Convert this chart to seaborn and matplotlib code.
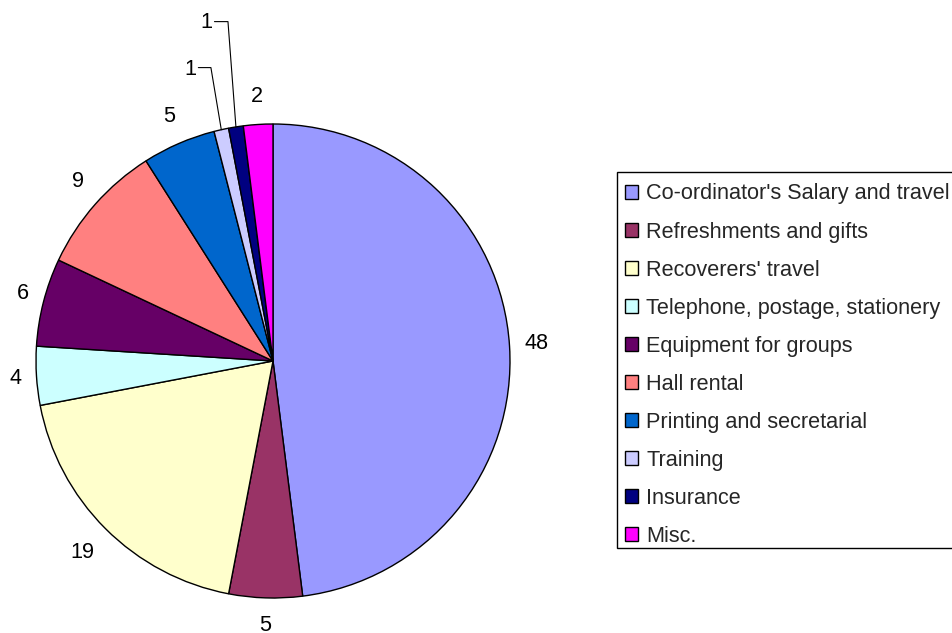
import numpy as np
import matplotlib
matplotlib.use("Agg")
import matplotlib.pyplot as plt
import seaborn as sns
from matplotlib.patches import Patch, Rectangle

categories = ["Co-ordinator's Salary and travel", "Refreshments and gifts",
              "Recoverers' travel", "Telephone, postage, stationery",
              "Equipment for groups", "Hall rental", "Printing and secretarial",
              "Training", "Insurance", "Misc."]
values = [48, 5, 19, 4, 6, 9, 5, 1, 1, 2]
value_labels = ["48", "5", "19", "4", "6", "9", "5", "1", "1", "2"]
colors = ["#9999FF", "#993366", "#FFFFCC", "#CCFFFF", "#660066",
          "#FF8080", "#0066CC", "#CCCCFF", "#000080", "#FF00FF"]

sns.set_theme(style="white")
plt.rcParams['font.family'] = ['Liberation Sans', 'DejaVu Sans']

W, H = 952, 633
FS = 15.6
fpx = FS * 100 / 72.0
fig = plt.figure(figsize=(W / 100, H / 100), dpi=100)
fig.patch.set_facecolor("white")

R = 237.0
cx, cy = 273.0, 361.0
ext = 1.05
half = ext * R
ax = fig.add_axes([(cx - half) / W, (H - cy - half) / H, 2 * half / W, 2 * half / H])

wedges, texts = ax.pie(values, colors=colors, startangle=90, counterclock=False,
                       labels=value_labels, labeldistance=1.12,
                       wedgeprops=dict(edgecolor="black", linewidth=1.0),
                       textprops=dict(fontsize=FS, color="black"))
ax.set_xlim(-ext, ext)
ax.set_ylim(-ext, ext)
ax.set_aspect("equal")
ax.axis("off")

# Excel-like outside label placement: box just outside the rim
gap = 15.0
hh = 13.0
k = 1.5
for w, t, lab in zip(wedges, texts, value_labels):
    ang = np.deg2rad((w.theta1 + w.theta2) / 2)
    c, s = np.cos(ang), np.sin(ang)
    hw = 0.278 * fpx * len(lab)
    px = (R + gap) * c + hw * np.clip(c * k, -1, 1)
    py = (R + gap) * s + hh * np.clip(s * k, -1, 1)
    t.set_position((px / R, py / R))
    t.set_ha("center")
    t.set_va("center")

# small slices with leader lines
leader = {7: ((-0.350, 1.232), (-0.262, 1.238)),
          8: ((-0.282, 1.428), (-0.190, 1.432))}
for i, (lab_pos, corner) in leader.items():
    w = wedges[i]
    ang = np.deg2rad((w.theta1 + w.theta2) / 2)
    ex, ey = np.cos(ang), np.sin(ang)
    texts[i].set_position(lab_pos)
    ax.plot([lab_pos[0] + 0.035, corner[0], ex], [corner[1], corner[1], ey],
            color="black", lw=0.8, clip_on=False)

# legend frame (extends past the right edge, as in the original)
frame = Rectangle((617 / W, 1 - 548.3 / H), (980 - 617) / W, (548.3 - 171.7) / H,
                  transform=fig.transFigure, facecolor="white", edgecolor="black",
                  linewidth=1.0, zorder=1)
fig.add_artist(frame)

handles = [Patch(facecolor=c, edgecolor="black", linewidth=1.0) for c in colors]
leg = fig.legend(handles, categories, loc="upper left",
                 bbox_to_anchor=(625 / W, 1 - 183.5 / H), bbox_transform=fig.transFigure,
                 fontsize=FS, frameon=False,
                 borderpad=0, handlelength=0.6, handleheight=0.58,
                 handletextpad=0.39, labelspacing=0.785, borderaxespad=0)
leg.set_zorder(2)

fig.savefig("out.png", dpi=100)
